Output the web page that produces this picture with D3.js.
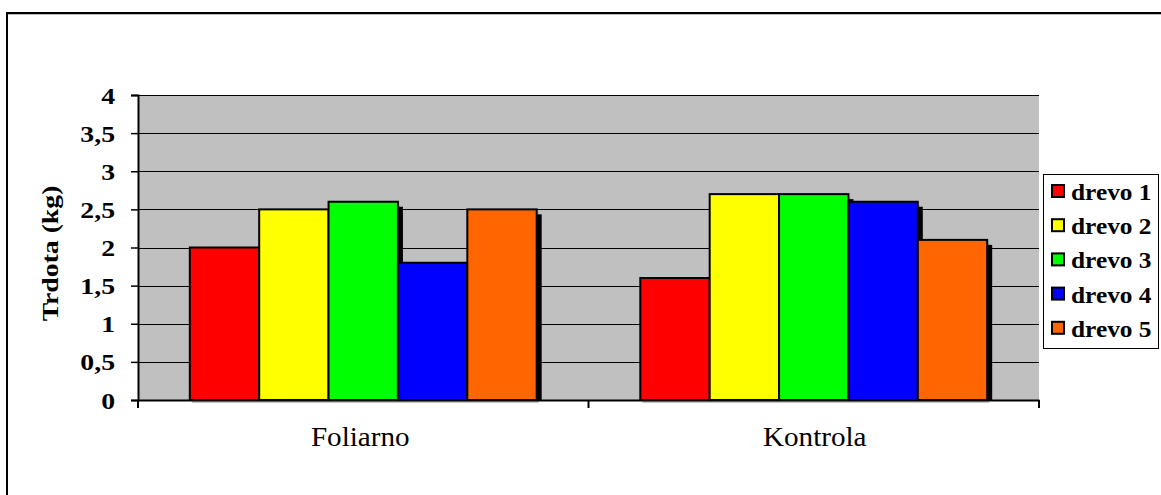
<!DOCTYPE html>
<html>
<head>
<meta charset="utf-8">
<script src="https://cdn.jsdelivr.net/npm/d3@7"></script>
<style>
  html, body { margin: 0; padding: 0; background: #fff; }
  svg { display: block; }
  svg text { font-family: "Liberation Serif", "Times New Roman", Times, serif; fill: #000; }
</style>
</head>
<body>
<div id="chart"></div>
<script>
// Fruit firmness per tree, foliar treatment vs. control
const categories = ["Foliarno", "Kontrola"];
const seriesNames = ["drevo 1", "drevo 2", "drevo 3", "drevo 4", "drevo 5"];
const seriesColors = ["#ff0000", "#ffff00", "#00ff00", "#0000ff", "#ff6600"];
const drevo1 = [2.0, 1.6];
const drevo2 = [2.5, 2.7];
const drevo3 = [2.6, 2.7];
const drevo4 = [1.8, 2.6];
const drevo5 = [2.5, 2.1];
const seriesValues = [drevo1, drevo2, drevo3, drevo4, drevo5];
const yTicks = [0, 0.5, 1, 1.5, 2, 2.5, 3, 3.5, 4];
const yTitle = "Trdota (kg)";

const W = 1161, H = 495;
const plot = { left: 138, right: 1039, top: 95, bottom: 400 };
const stretch = 1.18;   // wide lettering along the text direction

const svg = d3.select("#chart").append("svg")
  .attr("width", W).attr("height", H);

// outer chart frame (left and top edges visible, runs off the page)
svg.append("line").attr("x1", 7).attr("x2", W + 5).attr("y1", 14.5).attr("y2", 14.5)
  .attr("stroke", "#bbb").attr("stroke-width", 1);
svg.append("path")
  .attr("d", `M7,${H + 5} V13 H${W + 5}`)
  .attr("fill", "none").attr("stroke", "#000").attr("stroke-width", 2);

const y = d3.scaleLinear().domain([0, 4]).range([plot.bottom, plot.top]);
const x0 = d3.scaleBand().domain(categories).range([plot.left, plot.right]).padding(0);
const x1 = d3.scaleBand().domain(seriesNames)
  .range([x0.bandwidth() * 0.115, x0.bandwidth() * 0.885]).padding(0);

// plot area background
svg.append("rect")
  .attr("x", plot.left).attr("y", plot.top)
  .attr("width", plot.right - plot.left).attr("height", plot.bottom - plot.top)
  .attr("fill", "#c0c0c0");

// horizontal gridlines
svg.append("g").selectAll("line")
  .data(yTicks.filter(d => d > 0))
  .join("line")
  .attr("x1", plot.left).attr("x2", plot.right)
  .attr("y1", d => Math.round(y(d)) + 0.5).attr("y2", d => Math.round(y(d)) + 0.5)
  .attr("stroke", "#000").attr("stroke-width", 1);

// bars with drop shadows
const groups = svg.append("g").selectAll("g")
  .data(categories)
  .join("g")
  .attr("transform", d => `translate(${x0(d)},0)`);

const barData = ci => seriesNames.map((s, si) => ({ s, si, v: seriesValues[si][ci] }));

groups.each(function (c, ci) {
  const g = d3.select(this);
  const data = barData(ci);
  // soft gray shadow under the bars
  g.selectAll("rect.soft").data(data).join("rect")
    .attr("class", "soft")
    .attr("x", d => x1(d.s) + 2).attr("y", d => y(d.v) + 3)
    .attr("width", x1.bandwidth()).attr("height", d => y(0) - y(d.v))
    .attr("fill", "#888").attr("opacity", 0.5);
  // black offset shadow
  g.selectAll("rect.shadow").data(data).join("rect")
    .attr("class", "shadow")
    .attr("x", d => x1(d.s) + 5).attr("y", d => y(d.v) + 5)
    .attr("width", x1.bandwidth()).attr("height", d => y(0) - y(d.v) - 5)
    .attr("fill", "#000");
});

groups.each(function (c, ci) {
  const g = d3.select(this);
  g.selectAll("rect.bar").data(barData(ci)).join("rect")
    .attr("class", "bar")
    .attr("x", d => x1(d.s)).attr("y", d => y(d.v))
    .attr("width", x1.bandwidth()).attr("height", d => y(0) - y(d.v))
    .attr("fill", d => seriesColors[d.si])
    .attr("stroke", "#000").attr("stroke-width", 2);
});

// y axis
const yAxis = svg.append("g")
  .attr("transform", `translate(${plot.left},0)`)
  .call(d3.axisLeft(y).tickValues(yTicks).tickSize(7).tickPadding(16)
    .tickFormat(d => String(d).replace(".", ",")));
yAxis.attr("font-family", null).attr("font-size", null);
yAxis.select(".domain").attr("stroke", "#000").attr("stroke-width", 2);
yAxis.selectAll(".tick line").attr("stroke", "#000").attr("stroke-width", 1.5);
yAxis.selectAll(".tick text")
  .attr("x", 0).attr("dy", "0.34em")
  .attr("transform", `translate(-23,0) scale(${stretch},1)`)
  .style("font-size", "23.5px").style("font-weight", "bold");

// x axis
const xAxis = svg.append("g")
  .attr("transform", `translate(0,${plot.bottom})`)
  .call(d3.axisBottom(x0).tickSize(0).tickPadding(0));
xAxis.attr("font-family", null).attr("font-size", null);
xAxis.select(".domain").attr("stroke", "#000").attr("stroke-width", 2);
xAxis.selectAll(".tick text")
  .attr("y", 0).attr("dy", null)
  .attr("transform", (d, i) => `translate(${i === 0 ? -3 : 1},46) scale(1.04,1)`)
  .style("font-size", "28px").style("font-weight", "normal");
// category separator ticks
svg.append("g").selectAll("line")
  .data([plot.left, x0(categories[1]), plot.right])
  .join("line")
  .attr("x1", d => d).attr("x2", d => d)
  .attr("y1", plot.bottom).attr("y2", plot.bottom + 8)
  .attr("stroke", "#000").attr("stroke-width", 2);

// y axis title
svg.append("text")
  .attr("transform", `translate(58,${(plot.top + plot.bottom) / 2 + 6}) rotate(-90) scale(${stretch},1)`)
  .attr("text-anchor", "middle")
  .style("font-size", "23.5px").style("font-weight", "bold")
  .text(yTitle);

// legend
const legend = svg.append("g").attr("transform", "translate(1043,174)");
legend.append("rect")
  .attr("x", 0.5).attr("y", 0.5).attr("width", 115).attr("height", 174)
  .attr("fill", "#fff").attr("stroke", "#000").attr("stroke-width", 1);
const items = legend.selectAll("g.item").data(seriesNames).join("g")
  .attr("class", "item")
  .attr("transform", (d, i) => `translate(0,${17 + i * 34.2})`);
items.append("rect")
  .attr("x", 9).attr("y", -6).attr("width", 12).attr("height", 12)
  .attr("fill", (d, i) => seriesColors[i])
  .attr("stroke", "#000").attr("stroke-width", 2);
items.append("text")
  .attr("transform", `translate(28,9) scale(1.08,1)`)
  .style("font-size", "23.5px").style("font-weight", "bold")
  .text(d => d);
</script>
</body>
</html>
